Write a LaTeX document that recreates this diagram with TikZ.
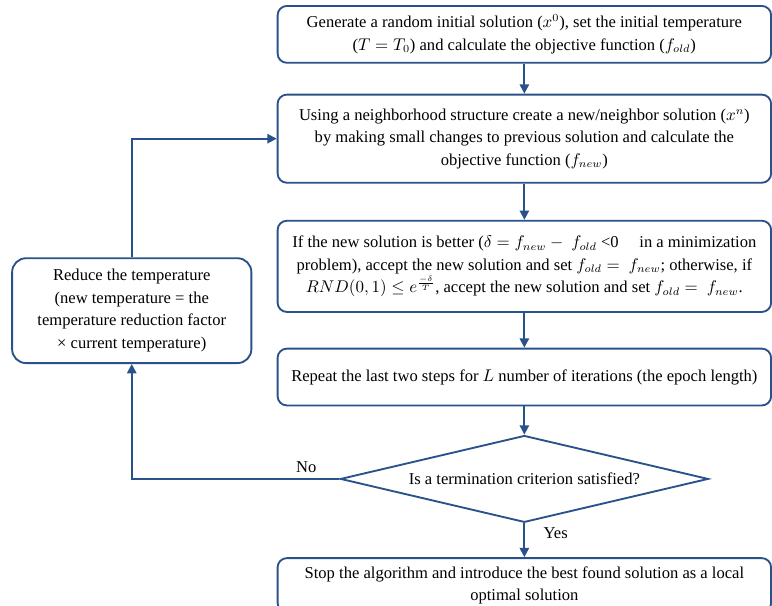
\documentclass[tikz,border=0pt]{standalone}
\usepackage{fontspec}
\setmainfont{Liberation Serif}
\usepackage{amsmath}
\usetikzlibrary{shapes.geometric, arrows.meta, positioning}
\definecolor{flowblue}{RGB}{41,82,138}

\begin{document}
\begin{tikzpicture}[
    node distance=0.75cm,
    box/.style={
        draw=flowblue,
        line width=1.2pt,
        rounded corners=6pt,
        align=center,
        minimum width=11.2cm,
        inner sep=2pt,
        font=\rmfamily\fontsize{10.7}{14.5}\selectfont
    },
    decision/.style={
        draw=flowblue,
        line width=1.2pt,
        diamond,
        aspect=4.2,
        inner sep=0pt,
        minimum width=8.35cm,
        minimum height=1.97cm,
        font=\rmfamily\fontsize{10.7}{14.5}\selectfont
    },
    tag/.style={font=\rmfamily\fontsize{10.7}{14.5}\selectfont},
    arrow/.style={-{Triangle[length=6pt,width=6pt]}, line width=1.2pt, draw=flowblue}
]
\useasboundingbox (0,0) rectangle (17.52,-13.73);

% --- Main column ---
\node[box, minimum height=1.29cm] (init) at (11.9,-0.78)
    {Generate a random initial solution ($x^0$), set the initial temperature\\
     ($T = T_0$) and calculate the objective function ($f_{old}$)};
\node[box, minimum height=2.0cm, below=0.68cm of init] (neigh)
    {Using a neighborhood structure create a new/neighbor solution ($x^n$)\\
     by making small changes to previous solution and calculate the\\
     objective function ($f_{new}$)};
\node[box, minimum height=2.07cm, below=0.82cm of neigh] (accept)
    {If the new solution is better ($\delta = f_{new} - \ f_{old}$ <0 \quad in a minimization\\
     problem), accept the new solution and set $f_{old} =\ f_{new}$; otherwise, if\\
     $RND(0,1) \le e^{\frac{-\delta}{T}}$, accept the new solution and set $f_{old} =\ f_{new}$.};
\node[box, minimum height=1.29cm, below=0.79cm of accept] (repeat)
    {Repeat the last two steps for $L$ number of iterations (the epoch length)};
\node[decision, below=0.64cm of repeat] (check) {Is a termination criterion satisfied?};
\node[box, minimum height=1.23cm, below=0.77cm of check] (stop)
    {Stop the algorithm and introduce the best found solution as a local\\
     optimal solution};

% --- Left side ---
\node[box, minimum width=5.43cm, minimum height=2.38cm, rounded corners=9pt] (reduce) at (2.99,-7.05)
    {Reduce the temperature\\ (new temperature = the\\ temperature reduction factor\\ × current temperature)};

% --- Arrows ---
\draw[arrow] (init) -- (neigh);
\draw[arrow] (neigh) -- (accept);
\draw[arrow] (accept) -- (repeat);
\draw[arrow] (repeat) -- (check);
\draw[arrow] (check) -- node[tag, right=0.3cm, pos=0.3] {Yes} (stop);
\draw[arrow] (check.west) -| node[tag, above, pos=0.08] {No} (reduce.south);
\draw[arrow] (reduce.north) |- (neigh.west);

\end{tikzpicture}
\end{document}
